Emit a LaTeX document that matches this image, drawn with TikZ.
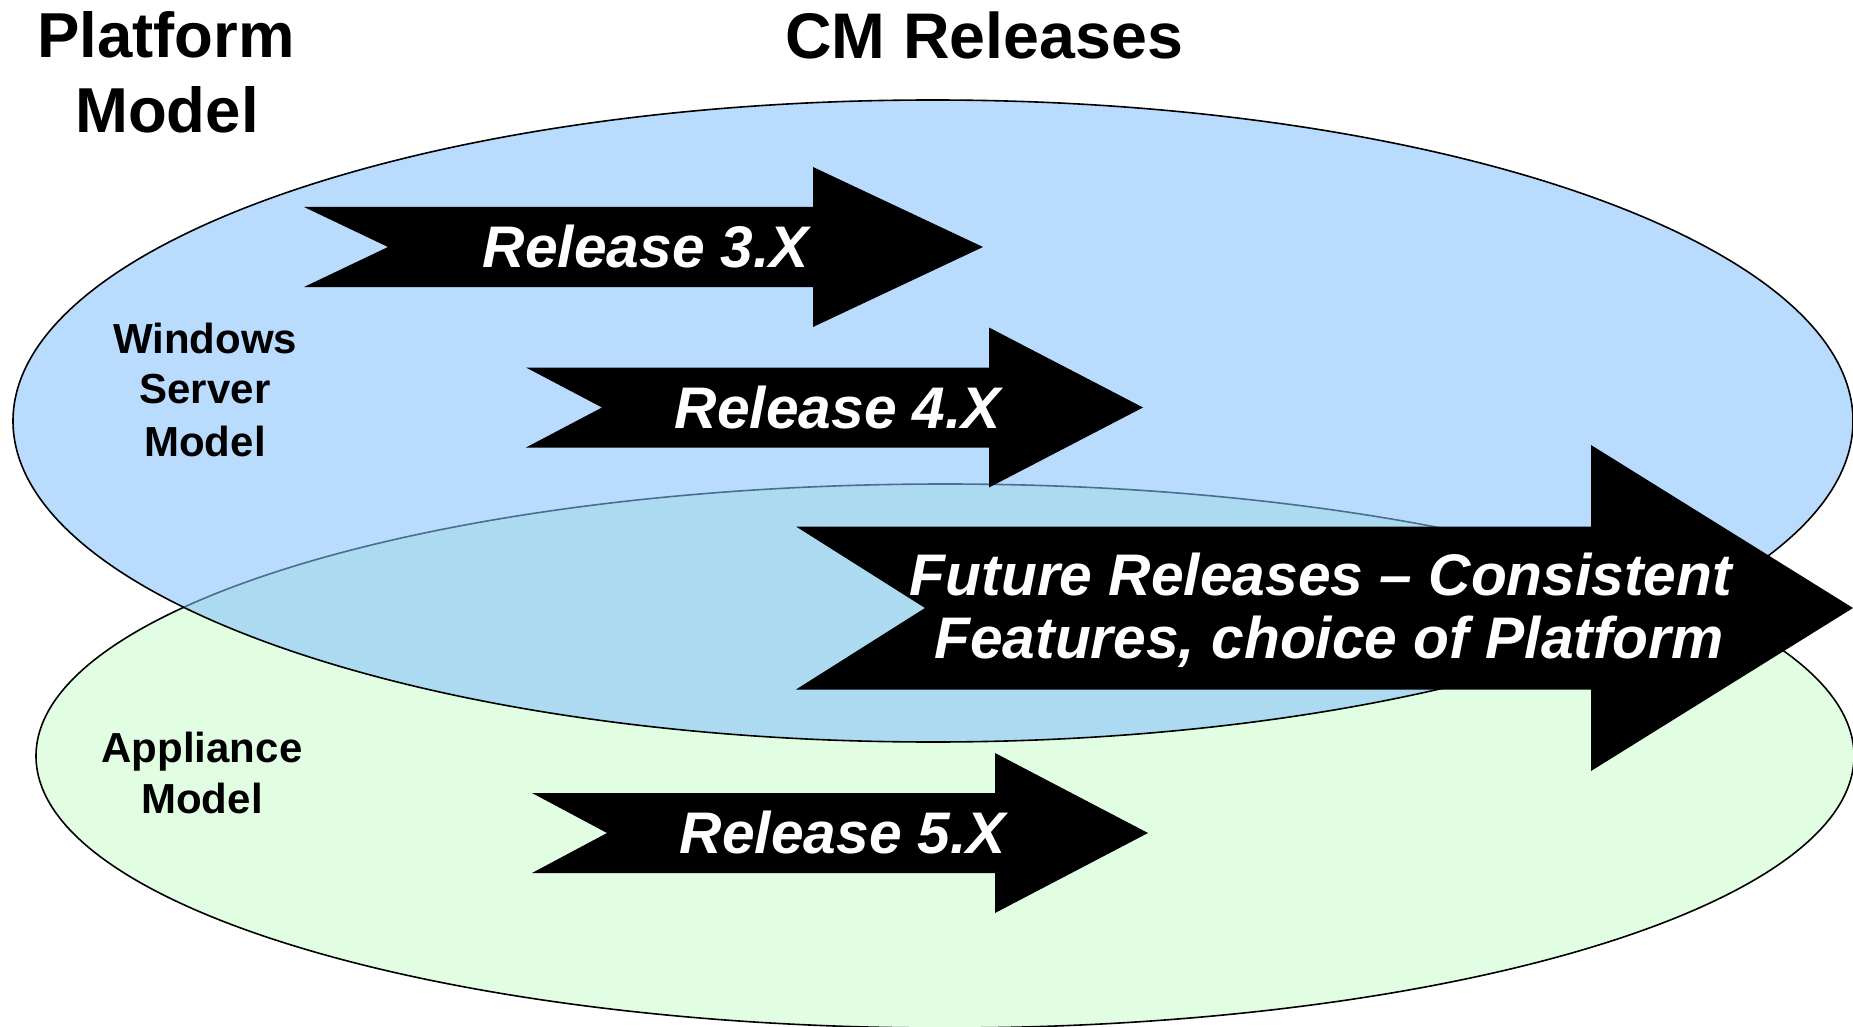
\documentclass[tikz,border=0pt]{standalone}
\usepackage{fontspec}
\setmainfont{Liberation Sans}
\definecolor{winblue}{RGB}{132,192,251}
\definecolor{appgreen}{RGB}{226,254,226}

% notched block arrow: tail x, notch x, axis y, shaft half height, head x, head half height, tip x
\newcommand\relarrow[7]{%
  \fill[releasearrow] (#1,#3-#4) -- (#5,#3-#4) -- (#5,#3-#6) -- (#7,#3)
    -- (#5,#3+#6) -- (#5,#3+#4) -- (#1,#3+#4) -- (#2,#3) -- cycle;}

\begin{document}
\begin{tikzpicture}[x=1pt,y=-1pt,
  platform/.style={draw=black,line width=1.6pt},
  headline/.style={font=\fontsize{63.5}{75}\selectfont\bfseries,anchor=base,inner sep=0pt},
  modellabel/.style={font=\fontsize{42}{50}\selectfont\bfseries,anchor=base,inner sep=0pt},
  arrowlabel/.style={font=\fontsize{58.7}{63}\selectfont\bfseries\itshape,text=white,anchor=base,inner sep=0pt},
  releasearrow/.style={fill=black}]
\useasboundingbox (0,0) rectangle (1853,1027);

% platform models
\draw[platform,fill=appgreen] (945,756) ellipse [x radius=909pt, y radius=272pt];
\draw[platform,fill=winblue,fill opacity=0.57] (933,421) ellipse [x radius=920pt, y radius=321pt];

% headings
\node[headline] (plat1) at (166,58) {Platform};
\node[headline] (plat2) at (167,133) {Model};
\node[headline,font=\fontsize{64.5}{75}\selectfont\bfseries] (cmrel) at (984,59) {CM Releases};

% model labels
\node[modellabel] (win1) at (205,353) {Windows};
\node[modellabel] (win2) at (205,403) {Server};
\node[modellabel] (win3) at (205,456) {Model};
\node[modellabel] (app1) at (202,762) {Appliance};
\node[modellabel] (app2) at (202,813) {Model};

% release arrows
\relarrow{304}{388}{247}{40}{813}{80}{983}
\relarrow{526}{602}{407.5}{40}{989}{80}{1143}
\relarrow{532}{607}{833}{40}{995}{80}{1148}
\relarrow{796}{925}{608}{81.5}{1591}{163}{1853}

\node[arrowlabel] (r3) at (646,267) {Release 3.X};
\node[arrowlabel] (r4) at (838,428) {Release 4.X};
\node[arrowlabel] (r5) at (843,853) {Release 5.X};
\node[arrowlabel] (fut1) at (1321,595) {Future Releases – Consistent};
\node[arrowlabel] (fut2) at (1329,658) {Features, choice of Platform};
\end{tikzpicture}
\end{document}
